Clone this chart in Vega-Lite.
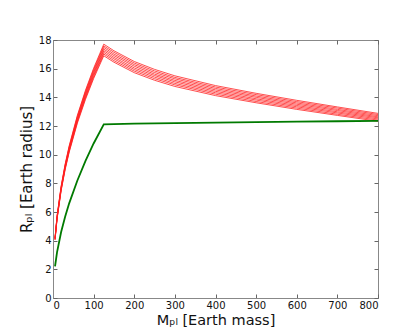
{
  "$schema": "https://vega.github.io/schema/vega-lite/v6.json",
  "width": 325,
  "height": 258,
  "autosize": "none",
  "padding": {"left": 53, "top": 40, "right": 42, "bottom": 37},
  "config": {
    "view": {"stroke": "#888", "strokeWidth": 1},
    "font": "DejaVu Sans",
    "axis": {"grid": false, "domainColor": "#888", "tickColor": "#666", "tickSize": -4, "labelPadding": 6, "labelFontSize": 10, "labelColor": "#111", "titleFontSize": 15, "titleFontWeight": "normal", "titleColor": "#111"}
  },
  "datasets": {
    "red": [
      {"m":5,"r":4.05,"s":"0"},{"m":10,"r":5.51,"s":"0"},{"m":20,"r":7.49,"s":"0"},{"m":30,"r":8.97,"s":"0"},{"m":40,"r":10.19,"s":"0"},{"m":60,"r":12.20,"s":"0"},{"m":80,"r":13.86,"s":"0"},{"m":100,"r":15.31,"s":"0"},{"m":125,"r":16.90,"s":"0"},{"m":150,"r":16.45,"s":"0"},{"m":200,"r":15.72,"s":"0"},{"m":250,"r":15.19,"s":"0"},{"m":300,"r":14.76,"s":"0"},{"m":400,"r":14.12,"s":"0"},{"m":500,"r":13.62,"s":"0"},{"m":600,"r":13.16,"s":"0"},{"m":700,"r":12.74,"s":"0"},{"m":800,"r":12.33,"s":"0"},
      {"m":5,"r":4.07,"s":"1"},{"m":10,"r":5.54,"s":"1"},{"m":20,"r":7.53,"s":"1"},{"m":30,"r":9.03,"s":"1"},{"m":40,"r":10.25,"s":"1"},{"m":60,"r":12.28,"s":"1"},{"m":80,"r":13.95,"s":"1"},{"m":100,"r":15.41,"s":"1"},{"m":125,"r":17.02,"s":"1"},{"m":150,"r":16.56,"s":"1"},{"m":200,"r":15.83,"s":"1"},{"m":250,"r":15.30,"s":"1"},{"m":300,"r":14.87,"s":"1"},{"m":400,"r":14.22,"s":"1"},{"m":500,"r":13.71,"s":"1"},{"m":600,"r":13.25,"s":"1"},{"m":700,"r":12.82,"s":"1"},{"m":800,"r":12.41,"s":"1"},
      {"m":5,"r":4.09,"s":"2"},{"m":10,"r":5.57,"s":"2"},{"m":20,"r":7.58,"s":"2"},{"m":30,"r":9.08,"s":"2"},{"m":40,"r":10.32,"s":"2"},{"m":60,"r":12.36,"s":"2"},{"m":80,"r":14.04,"s":"2"},{"m":100,"r":15.52,"s":"2"},{"m":125,"r":17.13,"s":"2"},{"m":150,"r":16.68,"s":"2"},{"m":200,"r":15.94,"s":"2"},{"m":250,"r":15.41,"s":"2"},{"m":300,"r":14.97,"s":"2"},{"m":400,"r":14.32,"s":"2"},{"m":500,"r":13.81,"s":"2"},{"m":600,"r":13.34,"s":"2"},{"m":700,"r":12.91,"s":"2"},{"m":800,"r":12.49,"s":"2"},
      {"m":5,"r":4.11,"s":"3"},{"m":10,"r":5.60,"s":"3"},{"m":20,"r":7.62,"s":"3"},{"m":30,"r":9.14,"s":"3"},{"m":40,"r":10.38,"s":"3"},{"m":60,"r":12.44,"s":"3"},{"m":80,"r":14.13,"s":"3"},{"m":100,"r":15.62,"s":"3"},{"m":125,"r":17.25,"s":"3"},{"m":150,"r":16.79,"s":"3"},{"m":200,"r":16.05,"s":"3"},{"m":250,"r":15.52,"s":"3"},{"m":300,"r":15.08,"s":"3"},{"m":400,"r":14.42,"s":"3"},{"m":500,"r":13.90,"s":"3"},{"m":600,"r":13.43,"s":"3"},{"m":700,"r":12.99,"s":"3"},{"m":800,"r":12.57,"s":"3"},
      {"m":5,"r":4.14,"s":"4"},{"m":10,"r":5.64,"s":"4"},{"m":20,"r":7.67,"s":"4"},{"m":30,"r":9.19,"s":"4"},{"m":40,"r":10.45,"s":"4"},{"m":60,"r":12.51,"s":"4"},{"m":80,"r":14.23,"s":"4"},{"m":100,"r":15.72,"s":"4"},{"m":125,"r":17.36,"s":"4"},{"m":150,"r":16.91,"s":"4"},{"m":200,"r":16.17,"s":"4"},{"m":250,"r":15.62,"s":"4"},{"m":300,"r":15.18,"s":"4"},{"m":400,"r":14.52,"s":"4"},{"m":500,"r":14.00,"s":"4"},{"m":600,"r":13.52,"s":"4"},{"m":700,"r":13.08,"s":"4"},{"m":800,"r":12.64,"s":"4"},
      {"m":5,"r":4.16,"s":"5"},{"m":10,"r":5.67,"s":"5"},{"m":20,"r":7.71,"s":"5"},{"m":30,"r":9.25,"s":"5"},{"m":40,"r":10.51,"s":"5"},{"m":60,"r":12.59,"s":"5"},{"m":80,"r":14.32,"s":"5"},{"m":100,"r":15.82,"s":"5"},{"m":125,"r":17.48,"s":"5"},{"m":150,"r":17.02,"s":"5"},{"m":200,"r":16.28,"s":"5"},{"m":250,"r":15.73,"s":"5"},{"m":300,"r":15.29,"s":"5"},{"m":400,"r":14.62,"s":"5"},{"m":500,"r":14.09,"s":"5"},{"m":600,"r":13.61,"s":"5"},{"m":700,"r":13.16,"s":"5"},{"m":800,"r":12.72,"s":"5"},
      {"m":5,"r":4.18,"s":"6"},{"m":10,"r":5.70,"s":"6"},{"m":20,"r":7.76,"s":"6"},{"m":30,"r":9.30,"s":"6"},{"m":40,"r":10.58,"s":"6"},{"m":60,"r":12.67,"s":"6"},{"m":80,"r":14.41,"s":"6"},{"m":100,"r":15.93,"s":"6"},{"m":125,"r":17.59,"s":"6"},{"m":150,"r":17.14,"s":"6"},{"m":200,"r":16.39,"s":"6"},{"m":250,"r":15.84,"s":"6"},{"m":300,"r":15.39,"s":"6"},{"m":400,"r":14.72,"s":"6"},{"m":500,"r":14.19,"s":"6"},{"m":600,"r":13.70,"s":"6"},{"m":700,"r":13.25,"s":"6"},{"m":800,"r":12.80,"s":"6"},
      {"m":5,"r":4.20,"s":"7"},{"m":10,"r":5.73,"s":"7"},{"m":20,"r":7.80,"s":"7"},{"m":30,"r":9.36,"s":"7"},{"m":40,"r":10.64,"s":"7"},{"m":60,"r":12.75,"s":"7"},{"m":80,"r":14.50,"s":"7"},{"m":100,"r":16.03,"s":"7"},{"m":125,"r":17.71,"s":"7"},{"m":150,"r":17.25,"s":"7"},{"m":200,"r":16.50,"s":"7"},{"m":250,"r":15.95,"s":"7"},{"m":300,"r":15.50,"s":"7"},{"m":400,"r":14.82,"s":"7"},{"m":500,"r":14.28,"s":"7"},{"m":600,"r":13.79,"s":"7"},{"m":700,"r":13.33,"s":"7"},{"m":800,"r":12.88,"s":"7"}
    ],
    "green": [
      {"m":5,"r":2.2},{"m":10,"r":3.2},{"m":20,"r":4.6},{"m":30,"r":5.68},{"m":40,"r":6.62},{"m":60,"r":8.2},{"m":80,"r":9.56},{"m":100,"r":10.78},{"m":125,"r":12.12},{"m":200,"r":12.16},{"m":300,"r":12.2},{"m":400,"r":12.24},{"m":500,"r":12.27},{"m":600,"r":12.3},{"m":700,"r":12.33},{"m":800,"r":12.36}
    ]
  },
  "layer": [
    {
      "data": {"name": "red"},
      "mark": {"type": "line", "color": "#ff2020", "strokeWidth": 0.8, "clip": true},
      "encoding": {
        "x": {"field": "m", "type": "quantitative", "scale": {"domain": [0, 800], "nice": false}, "axis": {"values": [0,100,200,300,400,500,600,700,800], "title": "Mₚₗ [Earth mass]", "titlePadding": 3, "titleFontSize": 14.5}},
        "y": {"field": "r", "type": "quantitative", "scale": {"domain": [0, 18], "nice": false}, "axis": {"values": [0,2,4,6,8,10,12,14,16,18], "title": "Rₚₗ [Earth radius]", "titlePadding": 4}},
        "detail": {"field": "s"}
      }
    },
    {
      "data": {"name": "green"},
      "mark": {"type": "line", "color": "#007a00", "strokeWidth": 1.8, "clip": true},
      "encoding": {
        "x": {"field": "m", "type": "quantitative", "axis": {"orient": "top", "values": [0,100,200,300,400,500,600,700,800], "labels": false, "title": null, "domain": false}},
        "y": {"field": "r", "type": "quantitative", "axis": {"orient": "right", "values": [0,2,4,6,8,10,12,14,16,18], "labels": false, "title": null, "domain": false}}
      }
    }
  ],
  "resolve": {"axis": {"x": "independent", "y": "independent"}}
}
